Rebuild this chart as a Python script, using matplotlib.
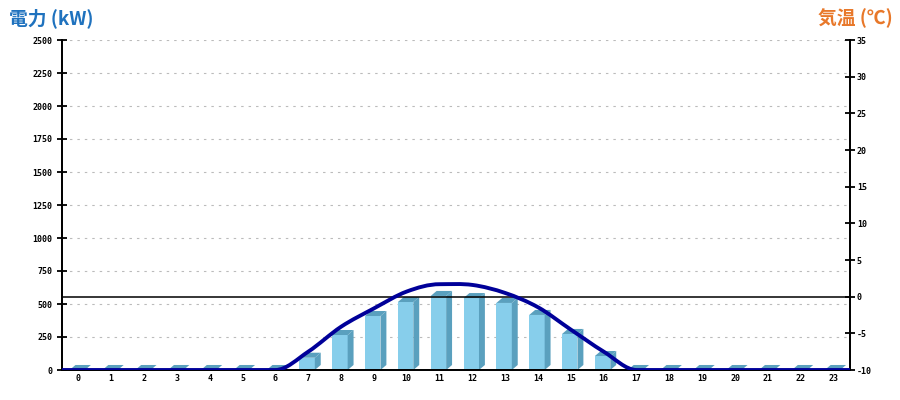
import matplotlib
matplotlib.use('Agg')
import matplotlib.pyplot as plt
from matplotlib.path import Path
from matplotlib.patches import PathPatch, Polygon

plt.rcParams['font.family'] = ['DejaVu Sans Mono']
plt.rcParams['axes.unicode_minus'] = False

hours = list(range(24))
power_kw = [0, 0, 0, 0, 0, 0, 0, 93, 265, 409, 515, 561, 545, 508, 417, 273, 106,
            0, 0, 0, 0, 0, 0, 0]
temp_c = [-10, -10, -10, -10, -10, -10, -10, -7.5, -4.1, -1.6, 0.7, 1.7, 1.6, 0.5,
          -1.45, -4.5, -7.5, -10, -10, -10, -10, -10, -10, -10]
power_ticks = list(range(0, 2501, 250))
temp_ticks = list(range(-10, 36, 5))

front_col = '#87CEEB'
side_col = '#5AA0BE'
line_col = '#000099'

fig = plt.figure(figsize=(9, 4), dpi=100)
ax = fig.add_axes([62 / 900, 30 / 400, 788 / 900, 330 / 400])
ax2 = ax.twinx()

ax.set_xlim(-0.5, 23.5)
ax.set_ylim(0, 2500)
ax2.set_ylim(-10, 35)

# 3d-ish bars: front face via bar(), side + top as polygons
left_off, width = -0.27, 0.47
dx, dy = 0.18, 38
ax.bar([h + left_off for h in hours], power_kw, width=width, align='edge',
       color=front_col, linewidth=0, zorder=2)
for h, v in zip(hours, power_kw):
    x0 = h + left_off
    x1 = x0 + width
    ax.add_patch(Polygon([(x1, 0), (x1 + dx, dy), (x1 + dx, v + dy), (x1, v)],
                         closed=True, facecolor=side_col, edgecolor='none', zorder=2))
    ax.add_patch(Polygon([(x0, v), (x1, v), (x1 + dx, v + dy), (x0 + dx, v + dy)],
                         closed=True, facecolor=side_col, edgecolor='none', zorder=2))

ax.set_yticks(power_ticks)
ax.yaxis.grid(True, color='#bbbbbb', linewidth=0.8, dashes=(2.2, 4.5))
ax.set_axisbelow(True)

# smooth temperature line (monotone cubic through hourly points)
n = len(hours)
sec = [(temp_c[i + 1] - temp_c[i]) / (hours[i + 1] - hours[i]) for i in range(n - 1)]
tan = [sec[0]] + [0 if sec[i - 1] * sec[i] <= 0 else (sec[i - 1] + sec[i]) / 2
                  for i in range(1, n - 1)] + [sec[-1]]
verts = [(ax.get_xlim()[0], temp_c[0]), (hours[0], temp_c[0])]
codes = [Path.MOVETO, Path.LINETO]
for i in range(n - 1):
    h = hours[i + 1] - hours[i]
    verts += [(hours[i] + h / 3, temp_c[i] + tan[i] * h / 3),
              (hours[i + 1] - h / 3, temp_c[i + 1] - tan[i + 1] * h / 3),
              (hours[i + 1], temp_c[i + 1])]
    codes += [Path.CURVE4] * 3
verts.append((ax.get_xlim()[1], temp_c[-1]))
codes.append(Path.LINETO)
ax2.add_patch(PathPatch(Path(verts, codes), facecolor='none', edgecolor=line_col,
                        linewidth=2.8, capstyle='butt', zorder=5))
ax2.axhline(0, color='black', linewidth=1.1, zorder=4)

ax2.set_yticks(temp_ticks)

for a in (ax, ax2):
    a.spines['top'].set_visible(False)
    for s in ('left', 'right', 'bottom'):
        a.spines[s].set_linewidth(1.3)
        a.spines[s].set_color('black')

ax.set_xticks(hours)
ax.tick_params(axis='x', length=0, pad=3, labelsize=6)
ax.tick_params(axis='y', direction='inout', length=7, width=1.3, pad=3.5, labelsize=6)
ax2.tick_params(axis='y', direction='inout', length=7, width=1.3, pad=1.5, labelsize=6)
for lab in ax.get_xticklabels() + ax.get_yticklabels() + ax2.get_yticklabels():
    lab.set_fontweight('bold')

cjk = ['Noto Sans CJK JP', 'DejaVu Sans']
fig.text(9 / 900, 1 - 24 / 400, '電力 (kW)', color='#1F72BE', fontsize=13.5,
         fontweight='bold', family=cjk, va='baseline', ha='left')
fig.text(893 / 900, 1 - 24 / 400, '気温 (℃)', color='#E8782A', fontsize=13.5,
         fontweight='bold', family=cjk, va='baseline', ha='right')

fig.savefig('out.png', dpi=100)
